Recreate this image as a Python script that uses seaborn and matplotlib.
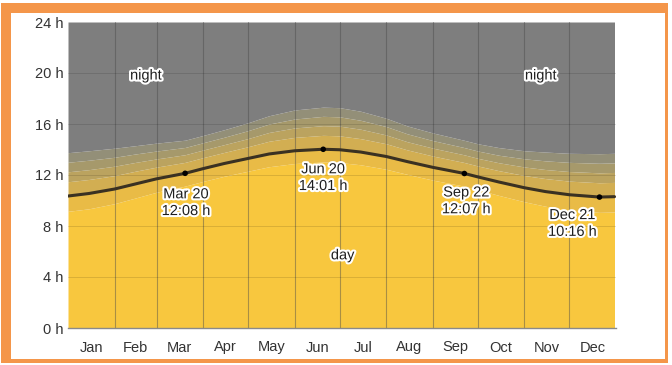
import numpy as np
import pandas as pd
import seaborn as sns
import matplotlib.pyplot as plt
import matplotlib.patheffects as pe
import matplotlib.patches as mpatches

# ---- data ---------------------------------------------------------------
months = ["Jan", "Feb", "Mar", "Apr", "May", "Jun",
          "Jul", "Aug", "Sep", "Oct", "Nov", "Dec"]
month_starts = [0, 31, 59, 90, 120, 151, 181, 212, 243, 273, 304, 334, 365]

day_of_year = [0, 14, 31, 45, 59, 78, 90, 104, 120, 134, 151, 170, 181,
               195, 212, 226, 243, 264, 273, 287, 304, 318, 334, 354, 364]
day_length = [10.35, 10.55, 10.9, 11.3, 11.7, 12.13, 12.5, 12.9, 13.3, 13.65,
              13.9, 14.02, 13.98, 13.8, 13.45, 13.05, 12.6, 12.12, 11.85,
              11.45, 11.0, 10.7, 10.45, 10.27, 10.3]

# widths of the shaded bands (hours) below and above the day-length line
lower_band = [1.2, 1.2, 1.15, 1.1, 1.05, 1.0, 1.0, 1.0, 1.0, 1.0, 1.0, 1.0,
              1.0, 1.0, 1.0, 1.0, 1.0, 1.0, 1.0, 1.05, 1.1, 1.15, 1.2, 1.2, 1.2]
civil_band = [1.12, 1.1, 1.05, 1.0, 0.92, 0.86, 0.86, 0.87, 0.92, 1.0, 1.05,
              1.09, 1.09, 1.05, 1.0, 0.92, 0.89, 0.86, 0.86, 0.89, 0.96, 1.02,
              1.07, 1.12, 1.12]
nautical_band = [0.78, 0.77, 0.74, 0.69, 0.64, 0.6, 0.6, 0.61, 0.64, 0.69,
                 0.74, 0.76, 0.76, 0.74, 0.69, 0.64, 0.62, 0.6, 0.6, 0.62,
                 0.67, 0.71, 0.75, 0.78, 0.78]
astro_band = [0.75, 0.74, 0.7, 0.66, 0.62, 0.57, 0.57, 0.58, 0.62, 0.66, 0.7,
              0.73, 0.73, 0.7, 0.66, 0.62, 0.59, 0.57, 0.57, 0.59, 0.64, 0.68,
              0.72, 0.75, 0.75]
outer_band = [0.75, 0.74, 0.71, 0.65, 0.62, 0.57, 0.57, 0.59, 0.62, 0.65,
              0.71, 0.72, 0.72, 0.71, 0.65, 0.62, 0.6, 0.57, 0.57, 0.6, 0.63,
              0.69, 0.71, 0.75, 0.75]

key_days = [78, 170, 264, 354]
key_hours = [12 + 8 / 60, 14 + 1 / 60, 12 + 7 / 60, 10 + 16 / 60]
key_labels = ["Mar 20\n12:08 h", "Jun 20\n14:01 h",
              "Sep 22\n12:07 h", "Dec 21\n10:16 h"]
hour_ticks = [0, 4, 8, 12, 16, 20, 24]

# ---- style --------------------------------------------------------------
sns.set_theme(style="white")
plt.rcParams['font.family'] = ['Liberation Sans', 'DejaVu Sans']

W, H = 672, 365
fig = plt.figure(figsize=(W / 100, H / 100), dpi=100)
fig.patch.set_facecolor("white")
ax = fig.add_axes([68 / W, 1 - 328 / H, (616 - 68) / W, (328 - 22) / H])

x = np.array(day_of_year, dtype=float)
L = np.array(day_length)
e0 = L - np.array(lower_band)
e1 = L + np.array(civil_band)
e2 = e1 + np.array(nautical_band)
e3 = e2 + np.array(astro_band)
e4 = e3 + np.array(outer_band)

c_day = "#f8c73e"
c_low = "#e9bb46"
c_b1 = "#d2ae52"
c_b2 = "#bba35f"
c_b3 = "#a6996b"
c_b4 = "#938f78"
c_night = "#7e7e7e"

ax.fill_between(x, 0, e0, color=c_day, lw=0)
ax.fill_between(x, e0, L, color=c_low, lw=0)
ax.fill_between(x, L, e1, color=c_b1, lw=0)
ax.fill_between(x, e1, e2, color=c_b2, lw=0)
ax.fill_between(x, e2, e3, color=c_b3, lw=0)
ax.fill_between(x, e3, e4, color=c_b4, lw=0)
ax.fill_between(x, e4, 24, color=c_night, lw=0)

# grid
for m in month_starts[1:-1]:
    ax.axvline(m, color="#4a4a4a", lw=0.8, alpha=0.45, zorder=2)
for h in hour_ticks[1:-1]:
    ax.axhline(h, color="#000000", lw=0.7, alpha=0.12, zorder=2)

# day-length line and solstice / equinox markers
df = pd.DataFrame({"day": day_of_year, "hours": day_length})
sns.lineplot(data=df, x="day", y="hours", ax=ax, color="#3a3122",
             lw=2.2, zorder=4)
sns.scatterplot(x=key_days, y=key_hours, ax=ax, color="black", s=16,
                edgecolor="none", zorder=5)

halo = [pe.withStroke(linewidth=3, foreground="white")]
offsets = [(1, -14), (0, -13), (2, -12), (-27, -11)]
for d, hr, lab, off in zip(key_days, key_hours, key_labels, offsets):
    ax.annotate(lab, (d, hr), xytext=off, textcoords="offset pixels",
                ha="center", va="top", fontsize=10.5, color="#1e1e1e",
                linespacing=1.25, path_effects=halo, zorder=6)

for tx, ty, s in [(52, 19.8, "night"), (315, 19.8, "night"), (183, 5.7, "day")]:
    ax.text(tx, ty, s, ha="center", va="center", fontsize=10.5,
            color="#1e1e1e", path_effects=halo, zorder=6)

ax.set_xlim(0, 365)
ax.set_ylim(0, 24)
mids = [(a + b) / 2 for a, b in zip(month_starts[:-1], month_starts[1:])]
ax.set_xticks(mids)
ax.set_xticklabels(months)
ax.set_yticks(hour_ticks)
ax.set_yticklabels([f"{h} h" for h in hour_ticks])
ax.tick_params(axis="x", length=0, pad=9, labelsize=10.5, labelcolor="#333333")
ax.tick_params(axis="y", length=0, pad=3, labelsize=10.5, labelcolor="#333333")
ax.set_xlabel("")
ax.set_ylabel("")
for side in ["top", "right", "left"]:
    ax.spines[side].set_visible(False)
ax.spines["bottom"].set_color("#8a8a8a")
ax.spines["bottom"].set_linewidth(1.0)

# orange frame around the figure
orange = "#f4964a"
def frame_rect(x0, y0, x1, y1):
    fig.patches.append(mpatches.Rectangle(
        (x0 / W, 1 - y1 / H), (x1 - x0) / W, (y1 - y0) / H,
        transform=fig.transFigure, color=orange, lw=0, zorder=0))

frame_rect(1, 3, 11, 363)     # left
frame_rect(1, 3, 668, 13)     # top
frame_rect(665, 3, 668, 363)  # right
frame_rect(1, 359, 668, 363)  # bottom

fig.savefig("out.png", dpi=100)
